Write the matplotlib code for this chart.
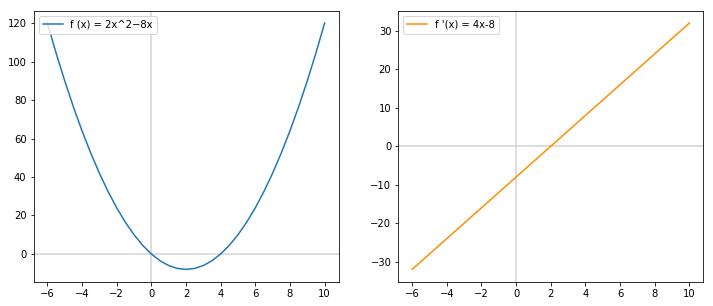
import matplotlib
matplotlib.use("Agg")
import matplotlib.pyplot as plt

x_vals = [-6, -5.5, -5, -4.5, -4, -3.5, -3, -2.5, -2, -1.5, -1, -0.5, 0, 0.5, 1, 1.5,
          2, 2.5, 3, 3.5, 4, 4.5, 5, 5.5, 6, 6.5, 7, 7.5, 8, 8.5, 9, 9.5, 10]
f_vals = [120, 104.5, 90, 76.5, 64, 52.5, 42, 32.5, 24, 16.5, 10, 4.5, 0, -3.5, -6, -7.5,
          -8, -7.5, -6, -3.5, 0, 4.5, 10, 16.5, 24, 32.5, 42, 52.5, 64, 76.5, 90, 104.5, 120]
df_vals = [-32, -30, -28, -26, -24, -22, -20, -18, -16, -14, -12, -10, -8, -6, -4, -2,
           0, 2, 4, 6, 8, 10, 12, 14, 16, 18, 20, 22, 24, 26, 28, 30, 32]
label_f = "f (x) = 2x^2\u22128x"
label_df = "f '(x) = 4x-8"

W, H = 713, 306
fig = plt.figure(figsize=(W / 72, H / 72), dpi=72)

def axpos(l, r, t, b):
    return [l / W, 1 - b / H, (r - l) / W, (b - t) / H]

ax1 = fig.add_axes(axpos(33.5, 338.5, 10.7, 281.7))
ax2 = fig.add_axes(axpos(398.3, 703.3, 10.7, 281.7))

for ax in (ax1, ax2):
    ax.axvline(0, color="lightgray", lw=1.5, zorder=1)
    ax.axhline(0, color="lightgray", lw=1.5, zorder=1)

ax1.plot(x_vals, f_vals, color="#1f77b4", lw=1.5, label=label_f, zorder=2)
ax2.plot(x_vals, df_vals, color="darkorange", lw=1.5, label=label_df, zorder=2)

ax1.set_xticks([-6, -4, -2, 0, 2, 4, 6, 8, 10])
ax2.set_xticks([-6, -4, -2, 0, 2, 4, 6, 8, 10])
ax1.set_yticks([0, 20, 40, 60, 80, 100, 120])
ax2.set_yticks([-30, -20, -10, 0, 10, 20, 30])

for ax in (ax1, ax2):
    ax.legend(loc="upper left", fontsize=10)
    ax.tick_params(labelsize=10)

fig.savefig("out.png", dpi=72)
